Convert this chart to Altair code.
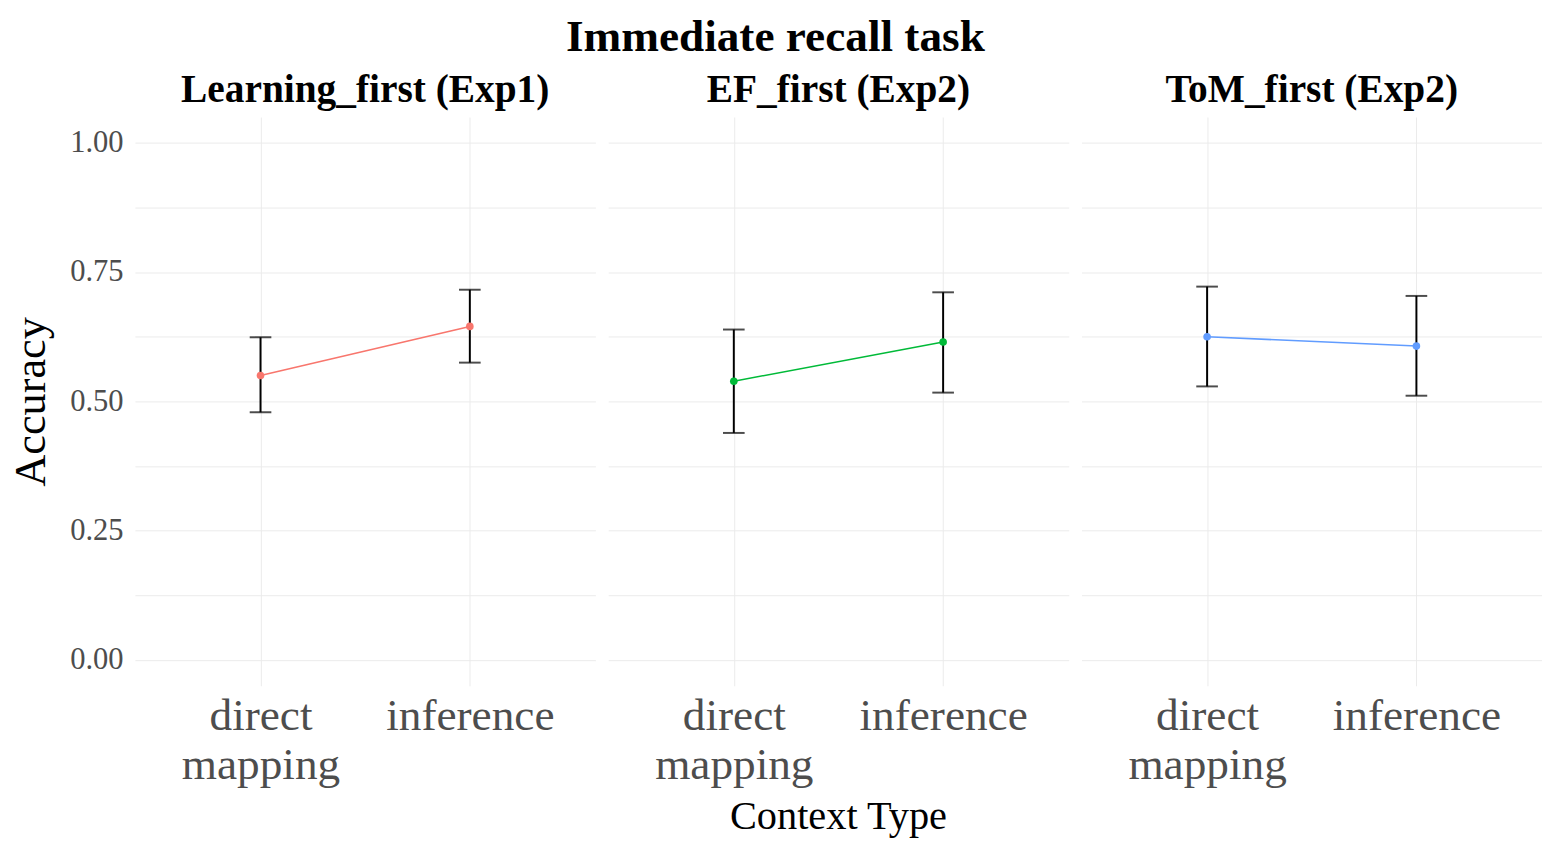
import altair as alt
import pandas as pd

panels = ["Learning_first (Exp1)", "EF_first (Exp2)", "ToM_first (Exp2)"]
contexts = ["direct mapping", "inference"]
panel_col = ["Learning_first (Exp1)", "Learning_first (Exp1)",
             "EF_first (Exp2)", "EF_first (Exp2)",
             "ToM_first (Exp2)", "ToM_first (Exp2)"]
context_col = ["direct mapping", "inference"] * 3
means = [0.550, 0.645, 0.539, 0.615, 0.625, 0.607]
lower = [0.479, 0.575, 0.439, 0.517, 0.529, 0.511]
upper = [0.624, 0.716, 0.639, 0.711, 0.722, 0.704]
colors = ["#F8766D", "#00BA38", "#619CFF"]

df = pd.DataFrame({"panel": panel_col, "context": context_col,
                   "mean": means, "lo": lower, "hi": upper})

FONT = "Liberation Serif"

x = alt.X("context:N", sort=contexts, title=None,
          scale=alt.Scale(type="point", padding=0.6),
          axis=alt.Axis(labelExpr="split(datum.label, ' ')", labelFontSize=46,
                        labelColor="#4d4d4d", labelFont=FONT, labelAngle=0,
                        ticks=False, domain=False, grid=True, gridColor="#ebebeb",
                        labelPadding=8, labelLineHeight=50, labelBaseline="top"))
yscale = alt.Scale(domain=[-0.05, 1.05], nice=False, zero=False)
yaxis = alt.Axis(values=[0, 0.125, 0.25, 0.375, 0.5, 0.625, 0.75, 0.875, 1.0],
                 labelExpr="(datum.value * 8) % 2 == 0 ? format(datum.value, '.2f') : ''",
                 labelFontSize=31, labelColor="#4d4d4d", labelFont=FONT,
                 ticks=False, domain=False, grid=True, gridColor="#ebebeb",
                 title="Accuracy", titleFont=FONT, titleFontSize=45,
                 titleFontWeight="normal", titleColor="black", titlePadding=17,
                 labelPadding=12)
color = alt.Color("panel:N", scale=alt.Scale(domain=panels, range=colors), legend=None)

base = alt.Chart(df)
line = base.mark_line(strokeWidth=1.6).encode(x=x, y=alt.Y("mean:Q", scale=yscale, axis=yaxis), color=color)
pts = base.mark_circle(size=60, opacity=1).encode(x=x, y=alt.Y("mean:Q"), color=color)
rule = base.mark_rule(color="black", strokeWidth=2).encode(x=x, y=alt.Y("lo:Q"), y2="hi:Q")
cap_lo = base.mark_tick(color="black", thickness=2, size=22, orient="horizontal").encode(x=x, y=alt.Y("lo:Q"))
cap_hi = base.mark_tick(color="black", thickness=2, size=22, orient="horizontal").encode(x=x, y=alt.Y("hi:Q"))

layer = alt.layer(line, rule, cap_lo, cap_hi, pts).properties(width=468, height=578)

chart = layer.facet(
    column=alt.Column("panel:N", sort=panels, title="Context Type",
                      header=alt.Header(labelFont=FONT, labelFontSize=40, labelFontWeight="bold",
                                        labelColor="black", labelOrient="top", labelPadding=7,
                                        titleOrient="bottom", titleFont=FONT, titleFontSize=41,
                                        titleFontWeight="normal", titleColor="black", titlePadding=1)),
    spacing=13
).properties(
    padding=0,
    title=alt.TitleParams("Immediate recall task", font=FONT, fontSize=46, fontWeight="bold",
                          anchor="middle", color="black", offset=10)
).configure_view(stroke=None)

chart.save("out.html", embed_options={"renderer": "svg", "actions": False})
